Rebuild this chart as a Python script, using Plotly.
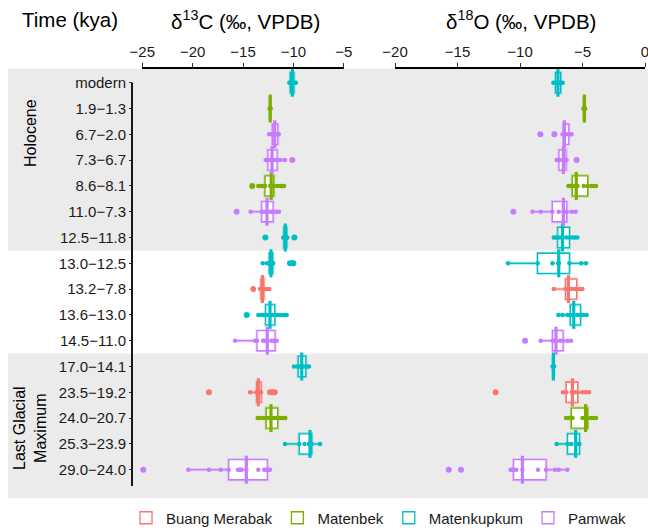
import plotly.graph_objects as go

M = "\u2212"
categories = ["modern", f"1.9{M}1.3", f"6.7{M}2.0", f"7.3{M}6.7", f"8.6{M}8.1", f"11.0{M}7.3",
              f"12.5{M}11.8", f"13.0{M}12.5", f"13.2{M}7.8", f"13.6{M}13.0", f"14.5{M}11.0",
              f"17.0{M}14.1", f"23.5{M}19.2", f"24.0{M}20.7", f"25.3{M}23.9", f"29.0{M}24.0"]
row_site = ["Matenkupkum", "Matenbek", "Pamwak", "Pamwak", "Matenbek", "Pamwak",
            "Matenkupkum", "Matenkupkum", "Buang Merabak", "Matenkupkum", "Pamwak",
            "Matenkupkum", "Buang Merabak", "Matenbek", "Matenkupkum", "Pamwak"]
sites = ["Buang Merabak", "Matenbek", "Matenkupkum", "Pamwak"]
site_colors = {"Buang Merabak": "#F8766D", "Matenbek": "#7CAE00",
               "Matenkupkum": "#00BFC4", "Pamwak": "#C77CFF"}
site_halo = {"Buang Merabak": "rgba(248,118,109,0.4)", "Matenbek": "rgba(124,174,0,0.4)",
             "Matenkupkum": "rgba(0,191,196,0.4)", "Pamwak": "rgba(199,124,255,0.4)"}

# delta13C box statistics (lower whisker, Q1, median, Q3, upper whisker) and points
c_lo  = [-10.4, -12.35, -12.4, -12.75, -13.48, -14.24, -11.0, -13.04, -13.3, -13.48, -15.79, -9.93, -14.3, -13.54, -10.83, -20.43]
c_q1  = [-10.3, -12.33, -12.08, -12.52, -12.81, -13.14, -10.93, -12.39, -13.21, -12.75, -13.61, -9.51, -13.64, -12.69, -9.41, -16.42]
c_med = [-10.1, -12.3, -11.85, -12.12, -12.2, -12.62, -10.8, -12.22, -13.07, -12.32, -12.59, -9.17, -13.48, -12.22, -8.35, -14.67]
c_q3  = [-9.95, -12.27, -11.55, -11.62, -11.95, -12.02, -10.66, -12.05, -12.94, -11.85, -11.82, -8.77, -13.21, -11.56, -8.18, -12.59]
c_hi  = [-9.75, -12.25, -11.45, -10.83, -10.93, -11.42, -10.6, -12.0, -12.39, -10.66, -11.65, -8.45, -13.21, -10.8, -7.35, -12.32]
c_pts = [
    [-10.4, -10.3, -10.2, -10.1, -10.05, -9.95, -9.75],
    [-12.35, -12.3, -12.25],
    [-12.4, -12.08, -11.95, -11.85, -11.75, -11.55, -11.45],
    [-12.75, -12.52, -12.3, -12.12, -12.0, -11.8, -11.62, -11.3, -10.83, -10.1],
    [-14.08, -13.48, -13.3, -13.1, -12.81, -12.3, -12.2, -12.1, -12.0, -11.95, -11.6, -11.3, -11.1, -10.93],
    [-15.63, -14.24, -13.14, -12.9, -12.62, -12.3, -12.1, -12.02, -11.7, -11.42],
    [-12.78, -11.0, -10.93, -10.8, -10.7, -10.6, -9.9],
    [-13.04, -12.6, -12.39, -12.22, -12.1, -12.05, -12.0, -10.33, -10.1, -10.0],
    [-13.98, -13.3, -13.21, -13.07, -12.94, -12.8, -12.5, -12.39],
    [-14.63, -13.48, -13.2, -12.95, -12.75, -12.5, -12.32, -12.1, -11.85, -11.6, -11.4, -11.1, -10.9, -10.66],
    [-15.79, -13.8, -13.61, -13.0, -12.8, -12.59, -12.2, -11.95, -11.82, -11.65],
    [-9.93, -9.6, -9.51, -9.3, -9.17, -9.0, -8.77, -8.6, -8.45],
    [-18.38, -14.3, -13.64, -13.55, -13.48, -13.4, -13.21, -12.32, -12.05, -11.85],
    [-13.54, -13.3, -12.95, -12.69, -12.5, -12.3, -12.22, -12.1, -11.9, -11.7, -11.56, -11.4, -11.2, -11.0, -10.8],
    [-10.83, -9.41, -8.9, -8.45, -8.35, -8.25, -8.18, -7.35],
    [-24.9, -20.43, -18.38, -17.21, -16.42, -15.5, -15.3, -15.13, -14.67, -13.48, -12.9, -12.7, -12.59, -12.45, -12.32],
]

# delta18O box statistics and points
o_lo  = [-7.33, -4.93, -6.59, -7.07, -6.13, -9.0, -7.3, -10.96, -7.3, -6.93, -8.35, -7.4, -6.56, -6.32, -7.07, -10.75]
o_q1  = [-7.15, -4.9, -6.53, -6.88, -5.81, -7.41, -6.98, -8.59, -6.35, -5.97, -7.39, -7.36, -6.3, -5.89, -6.19, -10.51]
o_med = [-6.96, -4.85, -6.45, -6.53, -5.5, -6.53, -6.6, -6.9, -6.13, -5.7, -7.12, -7.33, -5.81, -4.75, -5.55, -9.81]
o_q3  = [-6.75, -4.82, -6.1, -6.32, -4.59, -6.27, -6.05, -6.05, -5.47, -5.17, -6.56, -7.3, -5.39, -4.59, -5.25, -7.92]
o_hi  = [-6.58, -4.78, -5.87, -6.27, -3.92, -5.55, -5.41, -4.72, -5.01, -4.67, -5.92, -7.27, -4.48, -3.92, -5.25, -6.21]
o_pts = [
    [-7.33, -7.15, -7.0, -6.96, -6.9, -6.75, -6.58],
    [-4.93, -4.85, -4.78],
    [-8.37, -7.25, -6.59, -6.53, -6.45, -6.3, -6.1, -5.95, -5.87],
    [-7.07, -6.88, -6.6, -6.53, -6.45, -6.32, -6.27, -5.47],
    [-6.13, -6.0, -5.9, -5.81, -5.6, -5.5, -5.4, -4.9, -4.59, -4.3, -4.1, -3.92],
    [-10.53, -9.0, -8.35, -7.41, -6.9, -6.53, -6.4, -6.27, -5.85, -5.55],
    [-7.3, -7.15, -6.98, -6.8, -6.6, -6.3, -6.05, -5.8, -5.6, -5.41],
    [-10.96, -8.59, -7.4, -6.95, -6.9, -6.05, -5.1, -4.72],
    [-7.3, -6.35, -6.2, -6.13, -5.9, -5.6, -5.47, -5.25, -5.01],
    [-6.93, -6.6, -6.2, -5.97, -5.75, -5.7, -5.4, -5.17, -4.95, -4.67],
    [-9.6, -8.35, -7.39, -7.2, -7.12, -6.8, -6.56, -6.2, -5.92],
    [-7.4, -7.33, -7.27],
    [-11.95, -6.56, -6.3, -5.85, -5.81, -5.6, -5.39, -5.0, -4.75, -4.48],
    [-6.32, -6.15, -5.89, -5.8, -5.0, -4.85, -4.75, -4.65, -4.59, -4.3, -4.1, -3.92],
    [-7.07, -6.19, -5.9, -5.55, -5.4, -5.25],
    [-15.7, -14.72, -10.75, -10.6, -10.51, -10.3, -9.81, -8.56, -7.92, -7.2, -6.9, -6.21],
]

x_ticks_c = [-25, -20, -15, -10, -5]
x_ticks_o = [-20, -15, -10, -5, 0]

W, H = 648, 531
FONT = "Liberation Sans, Arial, Helvetica, sans-serif"
BOXW = 0.78
ROW0_PX, ROW_PX = 82.7, 25.8
Y_TOP, Y_BOT = -0.55, 16.1

fig = go.Figure()

panels = [("x", c_lo, c_q1, c_med, c_q3, c_hi, c_pts),
          ("x2", o_lo, o_q1, o_med, o_q3, o_hi, o_pts)]

for pi, (xa, lo, q1, med, q3, hi, pts) in enumerate(panels):
    for s in sites:
        idx = [i for i, r in enumerate(row_site) if r == s]
        ys = [categories[i] for i in idx]
        common = dict(y=ys, q1=[q1[i] for i in idx], median=[med[i] for i in idx],
                      q3=[q3[i] for i in idx], lowerfence=[lo[i] for i in idx],
                      upperfence=[hi[i] for i in idx], orientation="h", xaxis=xa, yaxis="y",
                      boxpoints=False, whiskerwidth=0, width=BOXW, fillcolor="white",
                      hoverinfo="skip")
        # translucent halo
        fig.add_trace(go.Box(**common, line=dict(color=site_halo[s], width=3),
                             showlegend=False, legendgroup=s, name=s))
        fig.add_trace(go.Box(**common, line=dict(color=site_colors[s], width=1.3),
                             showlegend=(pi == 0), legendgroup=s, name=s))
        # thick medians
        fig.add_trace(go.Scatter(x=[med[i] for i in idx], y=ys, xaxis=xa, yaxis="y",
                                 mode="markers", showlegend=False, hoverinfo="skip",
                                 cliponaxis=False,
                                 marker=dict(symbol="line-ns", size=20,
                                             line=dict(color=site_colors[s], width=3.2))))
        # points
        px_, py_, ox_, oy_ = [], [], [], []
        for i in idx:
            for v in pts[i]:
                if v < lo[i] - 1e-9 or v > hi[i] + 1e-9:
                    ox_.append(v); oy_.append(categories[i])
                else:
                    px_.append(v); py_.append(categories[i])
        fig.add_trace(go.Scatter(x=px_, y=py_, xaxis=xa, yaxis="y", mode="markers",
                                 showlegend=False, hoverinfo="skip", cliponaxis=False,
                                 marker=dict(size=4.5, color=site_colors[s])))
        fig.add_trace(go.Scatter(x=ox_, y=oy_, xaxis=xa, yaxis="y", mode="markers",
                                 showlegend=False, hoverinfo="skip", cliponaxis=False,
                                 marker=dict(size=6, color=site_colors[s])))

y_top_px = ROW0_PX + Y_TOP * ROW_PX
y_bot_px = ROW0_PX + Y_BOT * ROW_PX

axis_common = dict(side="top", showgrid=False, zeroline=False, showline=True,
                   linecolor="black", linewidth=1.6, ticks="outside", ticklen=4,
                   tickwidth=1.3, tickcolor="#333", anchor="y", automargin=False,
                   ticklabeloverflow="allow",
                   tickfont=dict(family=FONT, size=15, color="#1a1a1a"))

def ann(text, xpx, ypx, size, angle=0):
    return dict(text=text, x=xpx / W, y=(H - ypx) / H, xref="paper", yref="paper",
                xanchor="center", yanchor="middle", showarrow=False, textangle=angle,
                font=dict(family=FONT, size=size, color="black"))

fig.update_layout(
    width=W, height=H, margin=dict(l=0, r=0, t=0, b=0, autoexpand=False),
    paper_bgcolor="white", plot_bgcolor="rgba(0,0,0,0)",
    boxmode="overlay",
    xaxis=dict(domain=[142.3 / W, 343.7 / W], range=[-25, -5], tickvals=x_ticks_c, **axis_common),
    xaxis2=dict(domain=[395 / W, 645 / W], range=[-20, 0], tickvals=x_ticks_o, **axis_common),
    yaxis=dict(domain=[(H - y_bot_px) / H, (H - y_top_px) / H], type="category",
               categoryorder="array", categoryarray=categories, range=[Y_BOT, Y_TOP],
               anchor="free", position=132 / W, showgrid=False, zeroline=False, showline=False,
               ticks="outside", ticklen=3, tickwidth=1.3, tickcolor="#333", automargin=False,
               tickfont=dict(family=FONT, size=15, color="#1a1a1a")),
    legend=dict(orientation="h", x=126 / W, xanchor="left", y=(H - 518) / H, yanchor="middle",
                font=dict(family=FONT, size=15, color="#1a1a1a"), bgcolor="rgba(0,0,0,0)",
                itemclick=False),
    shapes=[
        dict(type="rect", xref="paper", x0=8 / W, x1=1, yref="y", y0=Y_TOP, y1=6.5,
             fillcolor="#EBEBEB", line=dict(width=0), layer="below"),
        dict(type="rect", xref="paper", x0=8 / W, x1=1, yref="y", y0=10.5, y1=Y_BOT,
             fillcolor="#EBEBEB", line=dict(width=0), layer="below"),
        dict(type="line", xref="paper", x0=132 / W, x1=132 / W, yref="y", y0=0, y1=15.63,
             line=dict(color="black", width=1.8)),
    ],
    annotations=[
        ann("Time (kya)", 70, 20, 20.5),
        ann("\u03b4<sup>13</sup>C (\u2030, VPDB)", 245, 20, 20.5),
        ann("\u03b4<sup>18</sup>O (\u2030, VPDB)", 521, 20, 20.5),
        ann("Holocene", 31, 133, 16, -90),
        ann("Last Glacial<br>Maximum", 30, 428, 16, -90),
    ],
)

fig.write_html("out.html")
